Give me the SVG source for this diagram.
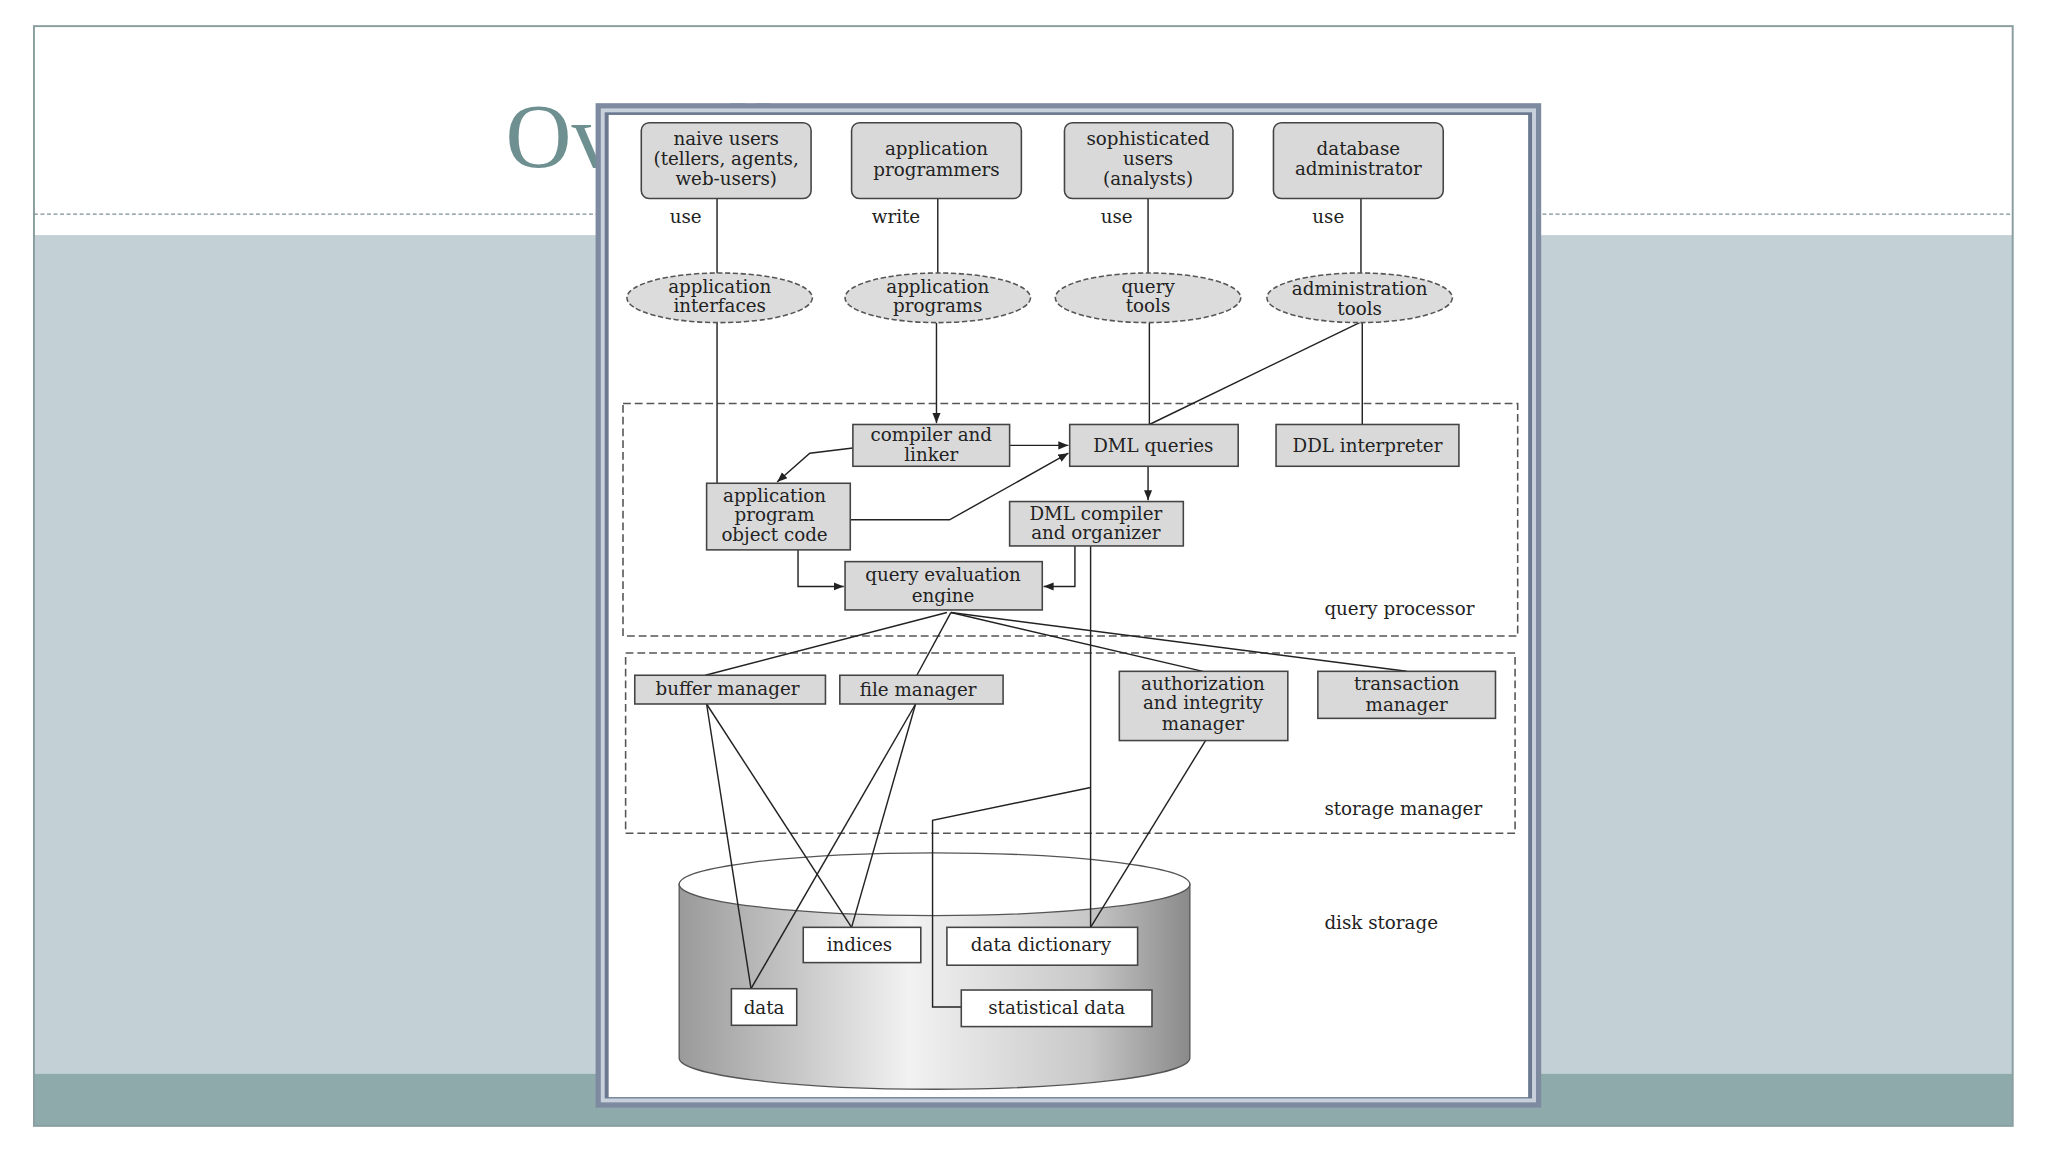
<svg xmlns="http://www.w3.org/2000/svg" width="2048" height="1152" viewBox="0 0 2048 1152">
<defs>
<style>
text{font-family:"DejaVu Serif","Liberation Serif",serif;font-size:14px;fill:#222;text-anchor:middle}
.b{fill:#d9d9d9;stroke:#444;stroke-width:1.2}
.w{fill:#fff;stroke:#444;stroke-width:1.2}
.e{fill:#dcdcdc;stroke:#555;stroke-width:1.2;stroke-dasharray:4 2}
.d{fill:none;stroke:#555;stroke-width:1.2;stroke-dasharray:6 3}
.c line,.c polyline{fill:none;stroke:#222;stroke-width:1.1}
.l{text-anchor:start}
</style>
<marker id="a" viewBox="0 0 10 10" refX="10" refY="5" markerWidth="7" markerHeight="7" orient="auto"><path d="M0,1L10,5L0,9z" fill="#222"/></marker>
<linearGradient id="g" x1="0" x2="1">
<stop offset="0" stop-color="#9a9a9a"/><stop offset="0.45" stop-color="#f2f2f2"/><stop offset="0.8" stop-color="#c8c8c8"/><stop offset="1" stop-color="#8a8a8a"/>
</linearGradient>
</defs>
<rect width="2048" height="1152" fill="#fff"/>
<g transform="scale(1.3061)">
<rect x="26" y="180" width="1515" height="642" fill="#c3d0d6"/>
<rect x="26" y="822" width="1515" height="40" fill="#8eaaab"/>
<rect x="26" y="20" width="1515" height="842" fill="none" stroke="#8a9ea0" stroke-width="1.5"/>
<line x1="26" y1="164" x2="1541" y2="164" stroke="#7a8f95" stroke-dasharray="3 2"/>
<text x="387" y="128" style="font-family:'Liberation Serif',serif;font-size:70px;fill:#6f9090;text-anchor:start">Overall System Structure</text>
<rect x="456" y="79" width="724" height="769" fill="#7d8aa0"/>
<rect x="460" y="83" width="716" height="761" fill="#c8d0dc"/>
<rect x="463" y="86" width="710" height="755" fill="#6a7890"/>
<rect x="466" y="88" width="704" height="752" fill="#fff"/>

<rect class="d" x="477" y="309" width="685" height="178"/>
<rect class="d" x="479" y="500" width="681" height="138"/>
<text class="l" x="1014" y="471">query processor</text>
<text class="l" x="1014" y="624">storage manager</text>
<text class="l" x="1014" y="711">disk storage</text>

<g id="disk">
<path d="M520,677 L520,810 A195.5,24 0 0 0 911,810 L911,677z" fill="url(#g)" stroke="#555"/>
<ellipse cx="715.5" cy="677" rx="195.5" ry="24" fill="#fff" stroke="#555"/>
</g>

<g class="c" id="connectors">
<line x1="549" y1="152" x2="549" y2="210"/>
<line x1="718" y1="152" x2="718" y2="210"/>
<line x1="879" y1="152" x2="879" y2="210"/>
<line x1="1042" y1="152" x2="1042" y2="210"/>
<line x1="549" y1="247" x2="549" y2="370"/>
<line x1="717" y1="247" x2="717" y2="324" marker-end="url(#a)"/>
<line x1="880" y1="247" x2="880" y2="325"/>
<line x1="1041" y1="247" x2="880" y2="325"/>
<line x1="1043" y1="247" x2="1043" y2="325"/>
<line x1="773" y1="341" x2="818" y2="341" marker-end="url(#a)"/>
<polyline points="653,343 620,347 595,369" marker-end="url(#a)"/>
<polyline points="651,398 727,398 818,347" marker-end="url(#a)"/>
<line x1="879" y1="357" x2="879" y2="383" marker-end="url(#a)"/>
<polyline points="611,421 611,449 646,449" marker-end="url(#a)"/>
<polyline points="823,418 823,449 799,449" marker-end="url(#a)"/>
<line x1="835" y1="418" x2="835" y2="710"/>
<polyline points="835,603 714,628 714,771 736,771"/>
<line x1="725" y1="469" x2="540" y2="517"/>
<line x1="728" y1="469" x2="702" y2="517"/>
<line x1="728" y1="469" x2="921" y2="514"/>
<line x1="728" y1="469" x2="1077" y2="514"/>
<line x1="541" y1="539" x2="575" y2="757"/>
<line x1="541" y1="539" x2="652" y2="710"/>
<line x1="701" y1="539" x2="575" y2="757"/>
<line x1="701" y1="539" x2="652" y2="710"/>
<line x1="923" y1="567" x2="835" y2="710"/>
</g>

<g id="naive"><rect class="b" x="491" y="94" width="130" height="58" rx="6"/><text x="556" y="111">naive users</text><text x="556" y="126">(tellers, agents,</text><text x="556" y="142">web-users)</text></g>
<g id="appprog"><rect class="b" x="652" y="94" width="130" height="58" rx="6"/><text x="717" y="119">application</text><text x="717" y="135">programmers</text></g>
<g id="soph"><rect class="b" x="815" y="94" width="129" height="58" rx="6"/><text x="879" y="111">sophisticated</text><text x="879" y="126">users</text><text x="879" y="142">(analysts)</text></g>
<g id="dba"><rect class="b" x="975" y="94" width="130" height="58" rx="6"/><text x="1040" y="119">database</text><text x="1040" y="134">administrator</text></g>
<text x="525" y="171">use</text><text x="686" y="171">write</text><text x="855" y="171">use</text><text x="1017" y="171">use</text>

<g id="ai"><ellipse class="e" cx="551" cy="228" rx="71" ry="19"/><text x="551" y="224">application</text><text x="551" y="239">interfaces</text></g>
<g id="ap"><ellipse class="e" cx="718" cy="228" rx="71" ry="19"/><text x="718" y="224">application</text><text x="718" y="239">programs</text></g>
<g id="qt"><ellipse class="e" cx="879" cy="228" rx="71" ry="19"/><text x="879" y="224">query</text><text x="879" y="239">tools</text></g>
<g id="at"><ellipse class="e" cx="1041" cy="228" rx="71" ry="19"/><text x="1041" y="226">administration</text><text x="1041" y="241">tools</text></g>

<g id="cl"><rect class="b" x="653" y="325" width="120" height="32"/><text x="713" y="338">compiler and</text><text x="713" y="353">linker</text></g>
<g id="dmlq"><rect class="b" x="819" y="325" width="129" height="32"/><text x="883" y="346">DML queries</text></g>
<g id="ddl"><rect class="b" x="977" y="325" width="140" height="32"/><text x="1047" y="346">DDL interpreter</text></g>
<g id="apoc"><rect class="b" x="541" y="370" width="110" height="51"/><text x="593" y="384">application</text><text x="593" y="399">program</text><text x="593" y="414">object code</text></g>
<g id="dmlc"><rect class="b" x="773" y="384" width="133" height="34"/><text x="839" y="398">DML compiler</text><text x="839" y="413">and organizer</text></g>
<g id="qee"><rect class="b" x="647" y="430" width="151" height="37"/><text x="722" y="445">query evaluation</text><text x="722" y="461">engine</text></g>

<g id="bm"><rect class="b" x="486" y="517" width="146" height="22"/><text x="557" y="532">buffer manager</text></g>
<g id="fm"><rect class="b" x="643" y="517" width="125" height="22"/><text x="703" y="533">file manager</text></g>
<g id="aim"><rect class="b" x="857" y="514" width="129" height="53"/><text x="921" y="528">authorization</text><text x="921" y="543">and integrity</text><text x="921" y="559">manager</text></g>
<g id="tm"><rect class="b" x="1009" y="514" width="136" height="36"/><text x="1077" y="528">transaction</text><text x="1077" y="544">manager</text></g>

<g id="indices"><rect class="w" x="615" y="710" width="90" height="27"/><text x="658" y="728">indices</text></g>
<g id="dd"><rect class="w" x="725" y="710" width="146" height="29"/><text x="797" y="728">data dictionary</text></g>
<g id="data"><rect class="w" x="560" y="757" width="50" height="28"/><text x="585" y="776">data</text></g>
<g id="sd"><rect class="w" x="736" y="758" width="146" height="28"/><text x="809" y="776">statistical data</text></g>
</g>
</svg>
